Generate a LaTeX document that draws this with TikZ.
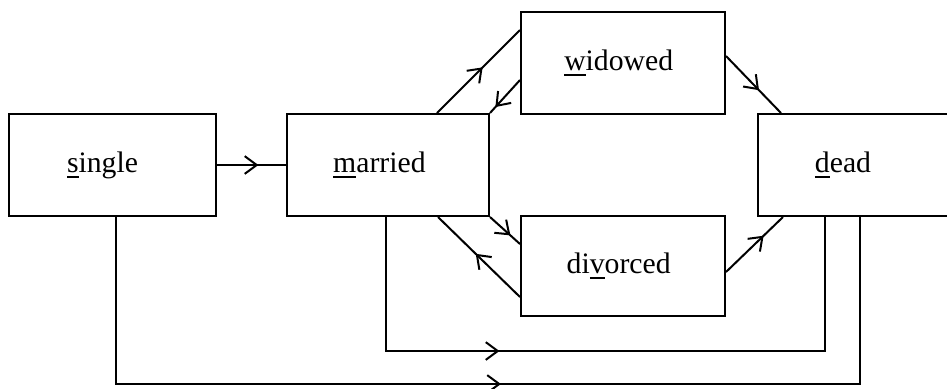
\documentclass[tikz,border=0pt]{standalone}
\usepackage{fontspec}
\setmainfont{Liberation Serif}
\usepackage{tikz}
\usetikzlibrary{arrows.meta,calc,decorations.markings}
\newcommand{\mnem}[1]{\setbox0\hbox{#1}\rlap{\rule[-2.2pt]{\wd0}{1pt}}#1}

\begin{document}
\begin{tikzpicture}[x=0.35pt,y=-0.35pt,line width=0.7pt,font=\fontsize{10.4}{12}\selectfont,
  box/.style={draw,rectangle,inner sep=0pt,minimum width={#1*0.35pt},minimum height={102*0.35pt},text height=7pt,text depth=2pt},
  flow/.style={postaction={decorate,decoration={markings,mark=at position #1 with {\arrow{Straight Barb[length=4.2pt,width=6.2pt]}}}}}]
\useasboundingbox (0,0) rectangle (947,388);
\node[box=207] (single) at (112.5,165) {\mnem{s}ingle\kern7pt\relax};
\node[box=202] (married) at (388,165) {\mnem{m}arried\kern6pt\relax};
\node[box=204] (widowed) at (623,63) {\mnem{w}idowed\kern3pt\relax};
\node[box=204,minimum height={100*0.35pt}] (divorced) at (623,266) {di\mnem{v}orced\kern3pt\relax};
\node[box=242] (dead) at (879,165) {};
\node[text height=7pt,text depth=2pt] (deadtext) at (843,165) {\mnem{d}ead};
\draw[flow=0.6] (single.east) -- (married.west);
\draw[flow=0.55] ($(married.north west)+(151,0)$) -- ($(widowed.north west)+(0,19)$);
\draw[flow=0.82] ($(widowed.north west)+(0,69)$) -- (married.north east);
\draw[flow=0.6] ($(widowed.north east)+(0,45)$) -- ($(dead.north west)+(24,0)$);
\draw[flow=0.68] (married.south east) -- ($(divorced.north west)+(0,29)$);
\draw[flow=0.54] ($(divorced.north west)+(0,82)$) -- ($(married.south west)+(152,0)$);
\draw[flow=0.66] ($(divorced.north east)+(0,57)$) -- ($(dead.south west)+(26,0)$);
\draw[flow=0.35] ($(married.south west)+(100,0)$) -- ++(0,134) -| ($(dead.south west)+(68,0)$);
\draw[flow=0.512] ($(single.south west)+(108,0)$) -- ++(0,167) -| ($(dead.south west)+(103,0)$);
\end{tikzpicture}
\end{document}
